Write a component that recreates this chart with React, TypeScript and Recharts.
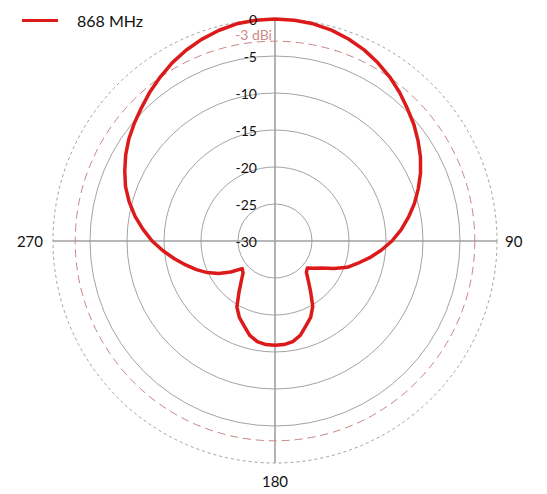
import { RadarChart, Radar, PolarGrid, PolarAngleAxis, PolarRadiusAxis, Legend } from "recharts"

// azimuth (deg, clockwise from top) and measured gain (dBi)
const angles = [
  0, 5, 10, 15, 20, 25, 30, 35, 40, 45, 50, 55, 60, 65, 70, 75, 80, 85,
  90, 95, 100, 105, 110, 115, 120, 125, 130, 135, 140, 145, 150, 155, 160, 165, 170, 175,
  180, 185, 190, 195, 200, 205, 210, 215, 220, 225, 230, 235, 240, 245, 250, 255, 260, 265,
  270, 275, 280, 285, 290, 295, 300, 305, 310, 315, 320, 325, 330, 335, 340, 345, 350, 355,
]
const gain868 = [
  0, -0.05, -0.2, -0.5, -0.95, -1.5, -2.2, -2.95, -3.8, -4.7, -5.5, -6.4, -7.3, -8.3, -9.4, -10.5, -11.7, -12.9,
  -14.2, -15.6, -17.0, -18.4, -19.6, -21.2, -22.7, -23.6, -24.3, -24.0, -23.0, -21.6, -19.8, -18.6, -17.8, -16.8, -16.2, -15.95,
  -15.9, -15.95, -16.2, -16.8, -17.8, -18.6, -19.7, -21.5, -22.9, -23.9, -24.2, -22.7, -21.2, -19.9, -18.7, -17.5, -16.2, -14.8,
  -13.4, -12.1, -10.8, -9.6, -8.5, -7.6, -6.7, -5.9, -5.2, -4.5, -3.7, -2.95, -2.2, -1.55, -1.0, -0.55, -0.2, -0.05,
]
const gridLevels = [-25, -20, -15, -10, -5]
const refLevel = -3
const angleLabels = [90, 180, 270]
const seriesName = "868 MHz"

const DB_MIN = -30
const DB_MAX = 0
const OUTER = 222
const rOf = (db: number) => ((db - DB_MIN) / (DB_MAX - DB_MIN)) * OUTER

const data = angles.map((a, i) => ({ angle: a, gain: gain868[i] }))

function RadiusTick({ x, y, payload }: { x: number; y: number; payload: { value: number } }) {
  return (
    <text x={x - 18} y={y} textAnchor="end" dominantBaseline="central" fontSize={14} fill="#111">
      {payload.value}
    </text>
  )
}

function AngleTick({ x, y, payload }: { x: number; y: number; payload: { value: number } }) {
  const v = Number(payload.value)
  if (!angleLabels.includes(v)) return <g />
  if (v === 90)
    return <text x={x} y={y} textAnchor="start" dominantBaseline="central" fontSize={15} fill="#111">{v}</text>
  if (v === 270)
    return <text x={x - 2} y={y} textAnchor="end" dominantBaseline="central" fontSize={15} fill="#111">{v}</text>
  return <text x={x} y={y + 10} textAnchor="middle" dominantBaseline="central" fontSize={15} fill="#111">{v}</text>
}

function LegendContent() {
  return (
    <div style={{ display: "flex", alignItems: "center", fontSize: 16, color: "#111" }}>
      <span style={{ width: 36, height: 3, background: "#dd1a1a", display: "inline-block", marginRight: 19 }} />
      {seriesName}
    </div>
  )
}

export default function App() {
  return (
    <div style={{ position: "absolute", left: 0, top: 0, width: 547, height: 494, background: "#fff", fontFamily: "Lato, sans-serif" }}>
      <RadarChart
        width={547}
        height={494}
        data={data}
        cx={275}
        cy={241}
        outerRadius={OUTER}
        startAngle={90}
        endAngle={-270}
        margin={{ top: 0, right: 0, bottom: 0, left: 0 }}
      >
        {/* axes cross */}
        <PolarGrid gridType="circle" polarAngles={[0, 90, 180, 270]} polarRadius={[0]} stroke="#a0a0a0" strokeWidth={1.6} />
        {/* -25 .. -5 rings */}
        <PolarGrid gridType="circle" radialLines={false} polarRadius={gridLevels.map(rOf)} stroke="#999" strokeWidth={0.9} />
        {/* 0 dB ring */}
        <PolarGrid gridType="circle" radialLines={false} polarRadius={[rOf(0)]} stroke="#a0a0a0" strokeWidth={1} strokeDasharray="3 3" />
        {/* -3 dBi reference */}
        <PolarGrid gridType="circle" radialLines={false} polarRadius={[rOf(refLevel)]} stroke="#c98585" strokeWidth={1} strokeDasharray="8 5" />
        <PolarAngleAxis dataKey="angle" tick={AngleTick as any} tickLine={false} axisLine={false} tickSize={8} />
        <PolarRadiusAxis
          angle={90}
          domain={[DB_MIN, DB_MAX]}
          tickCount={7}
          axisLine={false}
          tick={RadiusTick as any}
        />
        <Radar
          name={seriesName}
          dataKey="gain"
          stroke="#dd1a1a"
          strokeWidth={3.5}
          strokeLinejoin="round"
          fill="none"
          fillOpacity={0}
          dot={false}
          isAnimationActive={false}
        />
        <Legend content={<LegendContent />} wrapperStyle={{ top: 11, left: 22, width: "auto" }} />
      </RadarChart>
      <span style={{ position: "absolute", left: 235, top: 27, fontSize: 14, lineHeight: "16px", color: "#d08a8a" }}>-3 dBi</span>
    </div>
  )
}
